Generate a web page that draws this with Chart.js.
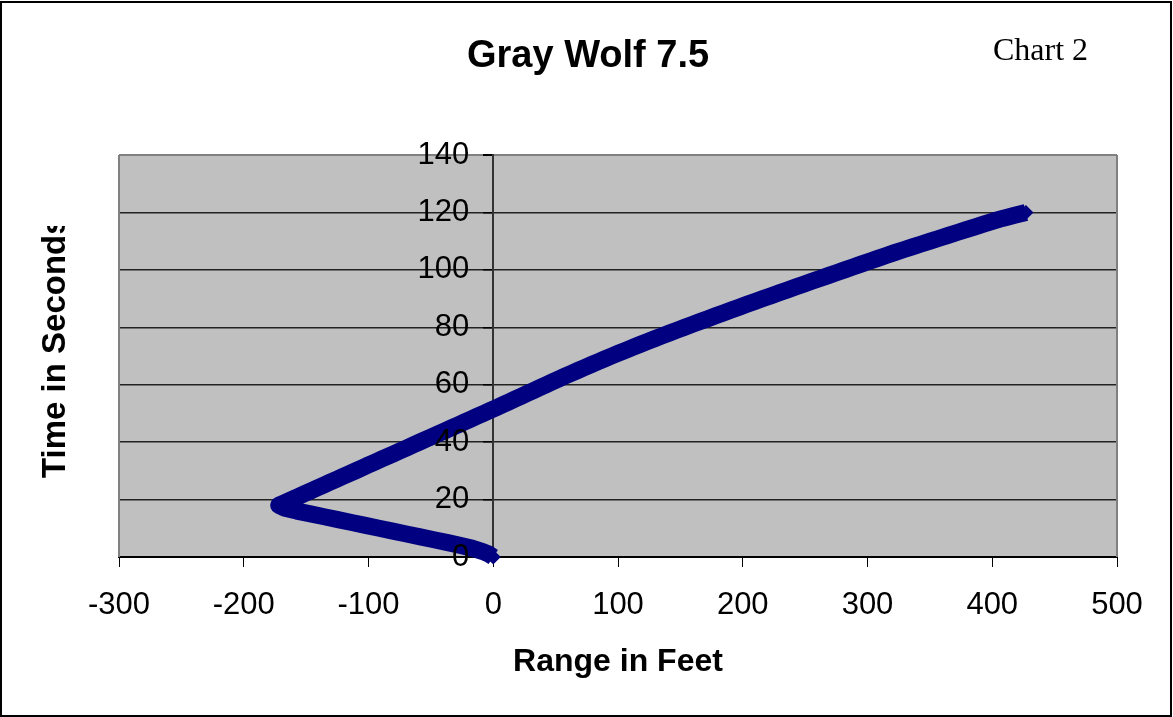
<!DOCTYPE html>
<html>
<head>
<meta charset="utf-8">
<title>Gray Wolf 7.5</title>
<script src="https://cdn.jsdelivr.net/npm/chart.js@4.4.1/dist/chart.umd.min.js"></script>
<style>
    html, body { margin: 0; padding: 0; background: #fff; }
    #wrap { width: 1173px; height: 717px; position: relative; }
</style>
</head>
<body>
<div id="wrap"><canvas id="myChart"></canvas></div>
<script>
// Время в секундах (ось Y)
const timeSec = [
    0, 1, 2, 3, 4, 5, 6, 7, 8, 9, 10, 11, 12, 13, 14, 15, 16, 17, 18, 19,
    20, 21, 22, 23, 24, 25, 26, 27, 28, 29, 30, 31, 32, 33, 34, 35, 36, 37, 38, 39,
    40, 41, 42, 43, 44, 45, 46, 47, 48, 49, 50, 51, 52, 53, 54, 55, 56, 57, 58, 59,
    60, 61, 62, 63, 64, 65, 66, 67, 68, 69, 70, 71, 72, 73, 74, 75, 76, 77, 78, 79,
    80, 81, 82, 83, 84, 85, 86, 87, 88, 89, 90, 91, 92, 93, 94, 95, 96, 97, 98, 99,
    100, 101, 102, 103, 104, 105, 106, 107, 108, 109, 110, 111, 112, 113, 114, 115, 116, 117, 118, 119,
    120
];

// Дистанция в футах (ось X)
const rangeFeet = [
    0, -3.5, -9, -16.5, -26, -36.5, -47.5, -58.5, -69.5, -80.5,
    -91.5, -102.5, -113.5, -124.5, -135.5, -146.5, -157.5, -167, -172, -166.9,
    -161.7, -156.6, -151.5, -146.4, -141.2, -136.1, -131, -125.8, -120.7, -115.6,
    -110.4, -105.3, -100.2, -95, -89.9, -84.8, -79.7, -74.5, -69.4, -64.3,
    -59.1, -54, -48.9, -43.7, -38.6, -33.5, -28.3, -23.2, -18.1, -13,
    -7.8, -2.7, 2.5, 7.5, 12.5, 17.5, 22.5, 27.5, 32.5, 37.5,
    42.5, 47.5, 52.5, 57.6, 62.8, 68, 73.3, 78.6, 84, 89.4,
    94.9, 100.4, 106.1, 111.8, 117.6, 123.4, 129.3, 135.3, 141.3, 147.4,
    153.5, 159.6, 165.8, 172, 178.2, 184.5, 190.8, 197.1, 203.4, 209.8,
    216.3, 222.8, 229.3, 235.8, 242.3, 248.8, 255.4, 261.9, 268.5, 275.1,
    281.7, 288.3, 294.9, 301.6, 308.3, 315, 321.7, 328.8, 335.9, 343.1,
    350.3, 357.5, 364.7, 371.9, 379.1, 386.3, 393.6, 400.9, 409, 418,
    427
];

// Шкалы
const xMin = -300, xMax = 500, xStep = 100;
const yMin = 0, yMax = 140, yStep = 20;

const chartTitle = 'Gray Wolf 7.5';
const chartTag = 'Chart 2';
const xTitle = 'Range in Feet';
const yTitle = 'Time in Seconds';

const sans = '"Liberation Sans", Arial, sans-serif';
const serif = '"Liberation Serif", "Times New Roman", serif';

// Отступ подписей оси Y от самой оси (Chart.js его не делает для оси в центре)
const yLabelGap = 24;

// Фон, рамки и надписи в стиле Excel
const framePlugin = {
    id: 'frame',
    beforeDraw(chart) {
        const { ctx, chartArea: a } = chart;
        ctx.save();
        ctx.fillStyle = '#fff';
        ctx.fillRect(0, 0, chart.width, chart.height);
        ctx.fillStyle = '#c0c0c0';
        ctx.fillRect(a.left, a.top, a.right - a.left, a.bottom - a.top);
        ctx.restore();

        // сдвигаем подписи оси Y влево от засечек
        const yScale = chart.scales.y;
        const items = yScale.getLabelItems(a);
        if (!yScale._shifted) {
            items.forEach(item => { item.options.translation[0] -= yLabelGap; });
            yScale._shifted = true;
        }
    },
    afterUpdate(chart) {
        chart.scales.y._shifted = false;
    },
    beforeDatasetsDraw(chart) {
        const { ctx, chartArea: a } = chart;
        ctx.save();
        ctx.strokeStyle = '#808080';
        ctx.lineWidth = 2;
        ctx.beginPath();
        ctx.moveTo(a.left, a.top);
        ctx.lineTo(a.left, a.bottom);
        ctx.moveTo(a.right, a.top);
        ctx.lineTo(a.right, a.bottom);
        ctx.stroke();
        ctx.restore();
    },
    afterDraw(chart) {
        const ctx = chart.ctx;
        ctx.save();
        ctx.strokeStyle = '#000';
        ctx.lineWidth = 2;
        ctx.strokeRect(1, 2, 1170, 714);

        ctx.fillStyle = '#000';
        ctx.textBaseline = 'alphabetic';
        ctx.textAlign = 'left';
        ctx.font = 'bold 38px ' + sans;
        ctx.fillText(chartTitle, 467, 67);

        ctx.font = '32px ' + serif;
        ctx.fillText(chartTag, 993, 60);

        // подпись оси Y обрезана сверху, как на оригинале
        ctx.beginPath();
        ctx.rect(0, 226, 200, 400);
        ctx.clip();
        ctx.translate(65, 478);
        ctx.rotate(-Math.PI / 2);
        ctx.font = 'bold 33px ' + sans;
        ctx.fillText(yTitle, 0, 0);
        ctx.restore();
    }
};

const points = timeSec.map((t, i) => ({ x: rangeFeet[i], y: t }));

const ctx = document.getElementById('myChart').getContext('2d');
const myChart = new Chart(ctx, {
    type: 'scatter',
    data: {
        datasets: [{
            label: 'Gray Wolf 7.5',
            data: points,
            showLine: true,
            borderColor: '#000080',
            borderWidth: 17,
            borderJoinStyle: 'round',
            backgroundColor: '#000080',
            pointStyle: 'rectRot',
            pointRadius: 7.5,
            pointBorderWidth: 0,
            pointBackgroundColor: '#000080',
            clip: false
        }]
    },
    options: {
        responsive: true,
        maintainAspectRatio: false,
        animation: false,
        devicePixelRatio: 1,
        layout: { padding: { top: 155, left: 119, right: 56, bottom: 0 } },
        plugins: {
            legend: { display: false },
            tooltip: { enabled: false }
        },
        scales: {
            x: {
                type: 'linear',
                position: 'bottom',
                min: xMin,
                max: xMax,
                ticks: { stepSize: xStep, color: '#000', font: { family: sans, size: 31 }, padding: 20, maxRotation: 0 },
                grid: { drawOnChartArea: false, drawTicks: true, tickLength: 10, tickColor: '#000' },
                border: { color: '#000', width: 2 },
                title: {
                    display: true,
                    text: xTitle,
                    color: '#000',
                    font: { family: sans, size: 32, weight: 'bold' },
                    padding: { top: 0, bottom: 36 }
                },
                afterFit: s => { s.height = 160; }
            },
            y: {
                type: 'linear',
                position: { x: 0 },
                min: yMin,
                max: yMax,
                ticks: { stepSize: yStep, color: '#000', font: { family: sans, size: 31 }, z: 1 },
                grid: {
                    color: c => (c.tick && c.tick.value === yMax) ? '#808080' : '#222',
                    lineWidth: c => (c.tick && c.tick.value === yMax) ? 2 : 1.5,
                    tickLength: 9,
                    tickColor: '#000'
                },
                border: { color: '#333', width: 2 }
            }
        }
    },
    plugins: [framePlugin]
});
</script>
</body>
</html>
